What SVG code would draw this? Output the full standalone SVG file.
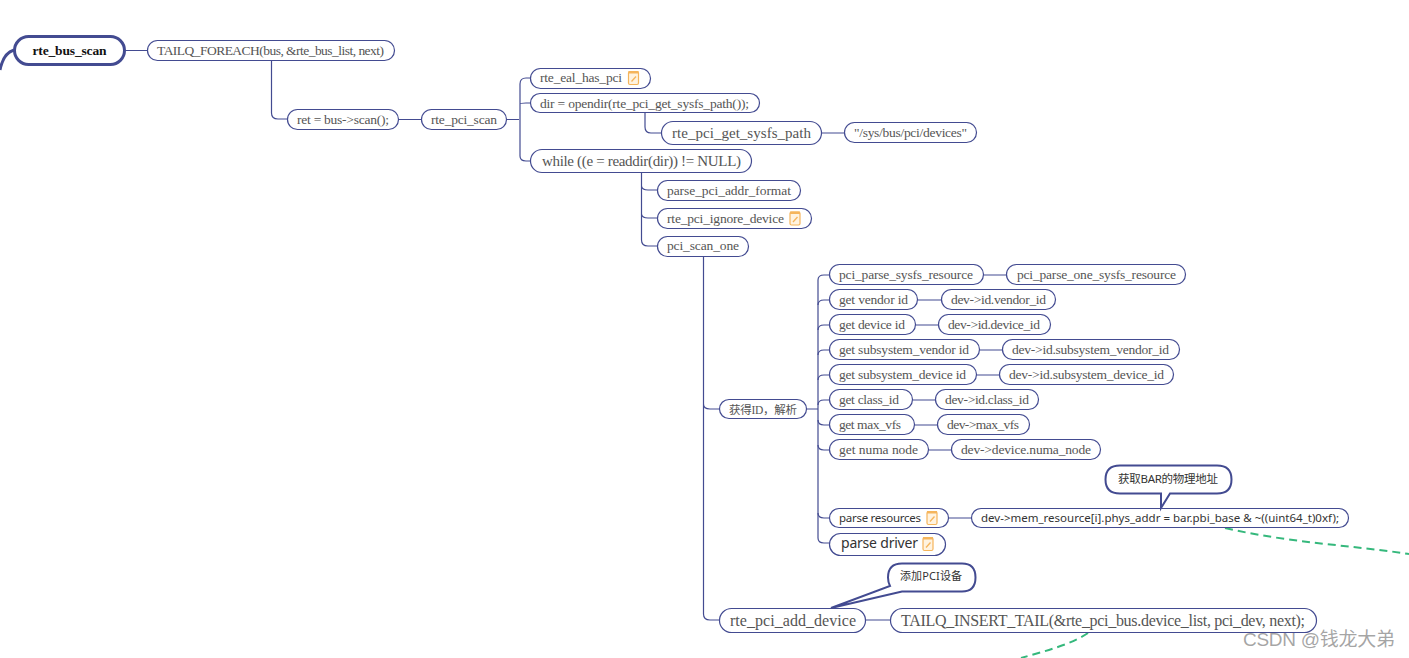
<svg xmlns="http://www.w3.org/2000/svg" width="1409" height="658" viewBox="0 0 1409 658">
<style>
.n{fill:#fff;stroke:#434b91;stroke-width:1.2}
.t{font-family:"Liberation Serif","Noto Sans CJK SC",serif;font-size:13.5px;fill:#555}
.l{font-family:"Noto Sans","Noto Sans CJK SC",sans-serif;fill:#333}
#connectors path{fill:none;stroke:#434b91;stroke-width:1.2}
.ic{fill:#fff3e0;stroke:#f5b55c;stroke-width:1.2}
</style>
<defs>
<g id="note"><rect class="ic" x="0" y="0.5" width="10" height="13" rx="1.500"/><rect x="0" y="0" width="10" height="2.500" fill="#f5b55c"/><path d="M3 10.500l4.500-5" stroke="#f5b55c" stroke-width="1.300" fill="none"/></g>
</defs>
<rect width="1409" height="658" fill="#fff"/>
<g id="connectors">
<path style="stroke-width:3" d="M14 50C7 52 2 60 0 70"/>
<path d="M125 50.500H147M271.500 61V113Q271.500 119 278 119H287M399 119.500H421M507 119.500H519"/>
<path d="M530 78H526Q520 78 520 84V156Q520 161 526 161H530M520 104Q520 103 526 103H530"/>
<path d="M645 113V127Q645 133 651 133H661M822 133H844"/>
<path d="M641.500 173V240Q641.500 246 648 246H657M641.500 186Q642 190 648 190H657M641.500 214Q642 218 648 218H657"/>
<path d="M703.500 256V404Q703.500 409 710 409H719M703.500 404V614Q703.500 620 710 620H719"/>
<path d="M807 409H818M818 280Q818 275 824 275H829M818 280V538Q818 543 824 543H829"/>
<path d="M818 305Q818 300 824 300H829M818 330Q818 325 824 325H829M818 355Q818 350 824 350H829M818 380Q818 375 824 375H829M818 405Q818 400 824 400H829M818 420Q818 425 824 425H829M818 445Q818 450 824 450H829M818 513Q818 518 824 518H829"/>
<path d="M984 275H1006M918 300H941M916 325H938M980 350H1002M977 375H999M913 400H935M915 425H937M929 450H951M949 518H971M866 620H890"/>
<path style="fill:none;stroke:#35b87c;stroke-width:2;stroke-dasharray:8 5" d="M1225 528C1290 543 1350 545 1409 554"/>
<path style="fill:none;stroke:#35b87c;stroke-width:2;stroke-dasharray:8 5" d="M1088 633C1070 645 1045 651 1021 658"/>
</g>
<g id="root"><rect x="14.500" y="36.500" width="110" height="28" rx="14" fill="#fff" stroke="#434b91" stroke-width="3"/><text x="69.500" y="55" text-anchor="middle" font-family="Liberation Serif" font-weight="700" font-size="13.500" fill="#111" textLength="74">rte_bus_scan</text></g>
<g id="n1"><rect class="n" x="147.500" y="40.500" width="247" height="20" rx="10"/><text class="t" x="157" y="55" textLength="227">TAILQ_FOREACH(bus, &amp;rte_bus_list, next)</text></g>
<g id="n2"><rect class="n" x="287.500" y="109.500" width="111" height="20" rx="10"/><text class="t" x="297" y="124" textLength="92">ret = bus-&gt;scan();</text></g>
<g id="n3"><rect class="n" x="421.500" y="109.500" width="85" height="20" rx="10"/><text class="t" x="431" y="124" textLength="66">rte_pci_scan</text></g>
<g id="n4"><rect class="n" x="530.500" y="68.500" width="120" height="20" rx="10"/><text class="t" x="540" y="82" textLength="82">rte_eal_has_pci</text><use href="#note" x="628.500" y="71"/></g>
<g id="n5"><rect class="n" x="530.500" y="93.500" width="229" height="19" rx="9.500"/><text class="t" x="540" y="108" textLength="209">dir = opendir(rte_pci_get_sysfs_path());</text></g>
<g id="n6"><rect class="n" x="661.500" y="121.500" width="160" height="23" rx="11.500"/><text class="t" style="font-size:15px" x="672" y="138" textLength="139">rte_pci_get_sysfs_path</text></g>
<g id="n7"><rect class="n" x="844.500" y="122.500" width="132" height="20" rx="10"/><text class="t" x="854" y="137" textLength="113">"/sys/bus/pci/devices"</text></g>
<g id="n8"><rect class="n" x="530.500" y="149.500" width="221" height="23" rx="11.500"/><text class="t" style="font-size:15px" x="542" y="166" textLength="199">while ((e = readdir(dir)) != NULL)</text></g>
<g id="n9"><rect class="n" x="657.500" y="180.500" width="143" height="20" rx="10"/><text class="t" x="667" y="195" textLength="124">parse_pci_addr_format</text></g>
<g id="n10"><rect class="n" x="657.500" y="208.500" width="154" height="20" rx="10"/><text class="t" x="667" y="223" textLength="117">rte_pci_ignore_device</text><use href="#note" x="790" y="211.500"/></g>
<g id="n11"><rect class="n" x="657.500" y="236.500" width="91" height="20" rx="10"/><text class="t" x="667" y="250" textLength="72">pci_scan_one</text></g>
<g id="n12"><rect class="n" x="719.500" y="399.500" width="87" height="19" rx="9.500"/><text class="t" style="font-size:11.500px" x="729" y="414" textLength="68">获得ID，解析</text></g>
<g id="n13"><rect class="n" x="829.500" y="264.500" width="154" height="20" rx="10"/><text class="t" x="839" y="279" textLength="134">pci_parse_sysfs_resource</text></g>
<g id="n14"><rect class="n" x="1006.500" y="264.500" width="179" height="20" rx="10"/><text class="t" x="1017" y="279" textLength="159">pci_parse_one_sysfs_resource</text></g>
<g id="n15"><rect class="n" x="829.500" y="289.500" width="88" height="20" rx="10"/><text class="t" x="839" y="304" textLength="69">get vendor id</text></g>
<g id="n16"><rect class="n" x="941.500" y="289.500" width="114" height="20" rx="10"/><text class="t" x="951" y="304" textLength="95">dev-&gt;id.vendor_id</text></g>
<g id="n17"><rect class="n" x="829.500" y="314.500" width="86" height="20" rx="10"/><text class="t" x="839" y="329" textLength="66">get device id</text></g>
<g id="n18"><rect class="n" x="938.500" y="314.500" width="112" height="20" rx="10"/><text class="t" x="948" y="329" textLength="92">dev-&gt;id.device_id</text></g>
<g id="n19"><rect class="n" x="829.500" y="339.500" width="150" height="20" rx="10"/><text class="t" x="839" y="354" textLength="130">get subsystem_vendor id</text></g>
<g id="n20"><rect class="n" x="1002.500" y="339.500" width="177" height="20" rx="10"/><text class="t" x="1012" y="354" textLength="157">dev-&gt;id.subsystem_vendor_id</text></g>
<g id="n21"><rect class="n" x="829.500" y="364.500" width="147" height="20" rx="10"/><text class="t" x="839" y="379" textLength="127">get subsystem_device id</text></g>
<g id="n22"><rect class="n" x="999.500" y="364.500" width="174" height="20" rx="10"/><text class="t" x="1009" y="379" textLength="155">dev-&gt;id.subsystem_device_id</text></g>
<g id="n23"><rect class="n" x="829.500" y="389.500" width="83" height="20" rx="10"/><text class="t" x="839" y="404" textLength="60">get class_id</text></g>
<g id="n24"><rect class="n" x="935.500" y="389.500" width="103" height="20" rx="10"/><text class="t" x="945" y="404" textLength="84">dev-&gt;id.class_id</text></g>
<g id="n25"><rect class="n" x="829.500" y="414.500" width="85" height="20" rx="10"/><text class="t" x="839" y="429" textLength="62">get max_vfs</text></g>
<g id="n26"><rect class="n" x="937.500" y="414.500" width="92" height="20" rx="10"/><text class="t" x="947" y="429" textLength="72">dev-&gt;max_vfs</text></g>
<g id="n27"><rect class="n" x="829.500" y="439.500" width="99" height="20" rx="10"/><text class="t" x="839" y="454" textLength="79">get numa node</text></g>
<g id="n28"><rect class="n" x="951.500" y="439.500" width="149" height="20" rx="10"/><text class="t" x="961" y="454" textLength="130">dev-&gt;device.numa_node</text></g>
<g id="n29"><rect class="n" x="829.500" y="508.500" width="119" height="19" rx="9.500"/><text class="l" font-size="11.500" x="839" y="522" textLength="82">parse resources</text><use href="#note" x="927" y="511"/></g>
<g id="n30"><rect class="n" x="971.500" y="508.500" width="377" height="19" rx="9.500"/><text class="l" font-size="11.500" x="981" y="522" textLength="358">dev-&gt;mem_resource[i].phys_addr = bar.pbi_base &amp; ~((uint64_t)0xf);</text></g>
<g id="n31"><rect class="n" x="829.500" y="533.500" width="116" height="22" rx="11"/><text class="l" font-size="14" x="841" y="548" textLength="77">parse driver</text><use href="#note" x="923" y="537"/></g>
<g id="n32"><rect class="n" x="719.500" y="608.500" width="146" height="24" rx="12"/><text class="t" style="font-size:16px" x="730" y="626" textLength="126">rte_pci_add_device</text></g>
<g id="n33"><rect class="n" x="890.500" y="608.500" width="426" height="24" rx="12"/><text class="t" style="font-size:16px" x="901" y="626" textLength="404">TAILQ_INSERT_TAIL(&amp;rte_pci_bus.device_list, pci_dev, next);</text></g>
<g id="callout1"><path d="M1120 465.500H1217Q1231.500 465.500 1231.500 479.500Q1231.500 493.500 1217 493.500H1170L1161 508L1161 493.500H1120Q1105.500 493.500 1105.500 479.500Q1105.500 465.500 1120 465.500Z" fill="#fff" stroke="#434b91" stroke-width="2"/><text class="l" font-size="11.500" x="1118" y="483" textLength="100">获取BAR的物理地址</text></g>
<g id="callout2"><path d="M902 563.500H962Q975.500 563.500 975.500 577.500Q975.500 591.500 962 591.500H902L831 608L890 586Q888 582 888 577.500Q888 563.500 902 563.500Z" fill="#fff" stroke="#434b91" stroke-width="2"/><text class="l" font-size="11" x="900" y="580" textLength="62">添加PCI设备</text></g>
<text x="1243" y="646" font-family="Liberation Sans,Noto Sans CJK SC,sans-serif" font-size="19" fill="#888" fill-opacity=".75" textLength="152">CSDN @钱龙大弟</text>
</svg>
